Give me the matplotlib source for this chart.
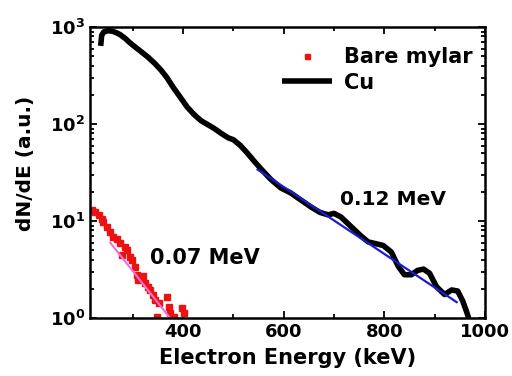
import numpy as np
import matplotlib
matplotlib.use("Agg")
import matplotlib.pyplot as plt
from matplotlib.ticker import FixedLocator, FuncFormatter, LogLocator, NullFormatter

plt.rcParams['font.family'] = ['DejaVu Sans']
plt.rcParams['font.weight'] = 'bold'
plt.rcParams['mathtext.fontset'] = 'dejavusans'

# Cu spectrum (keV, a.u.)
cu_energy = [236, 238, 242, 250, 258, 266, 274, 284, 294, 306, 318, 330, 344, 356,
             368, 380, 394, 408, 422, 436, 450, 462, 476, 490, 500, 514, 528, 542,
             556, 574, 594, 614, 634, 654, 672, 688, 700, 714, 726, 740, 754, 768,
             780, 798, 814, 828, 840, 854, 866, 878, 890, 904, 920, 934, 946, 956,
             964, 972]
cu_counts = [640, 820, 890, 915, 910, 880, 840, 770, 690, 615, 550, 490, 420, 360,
             300, 240, 190, 150, 125, 108, 98, 90, 80, 72, 69, 60, 50, 41,
             34, 27, 22, 19.5, 16.5, 14, 12.3, 11.6, 12, 11, 9.6, 8.2, 7, 6.1,
             5.9, 5.6, 4.8, 3.4, 2.8, 2.8, 3.1, 3.2, 2.9, 2.1, 1.75, 1.95, 1.9, 1.5,
             1.15, 0.85]

# Bare mylar spectrum
mylar_energy = [218, 225, 232, 238, 241, 248, 255, 261, 268, 275, 278, 285, 288, 295,
                298, 305, 308, 311, 321, 324, 331, 334, 341, 344, 351, 368, 371, 348,
                374, 381, 397, 401]
mylar_counts = [13.0, 12.5, 11.5, 10.6, 9.8, 8.7, 7.8, 6.9, 6.6, 5.9, 4.5, 5.4, 5.0, 4.3,
                4.0, 3.4, 2.8, 2.45, 2.7, 2.3, 2.1, 1.95, 1.73, 1.54, 1.43, 1.66, 1.31, 1.03,
                1.12, 1.03, 1.26, 1.12]

# exponential fits (end points)
fit_cu_energy = [548, 944]
fit_cu_counts = [34, 1.46]
fit_mylar_energy = [255, 376]
fit_mylar_counts = [6.0, 0.97]

fig = plt.figure(figsize=(5.12, 3.76), dpi=100)
ax = fig.add_axes([0.176, 0.154, 0.771, 0.774])

ax.plot(mylar_energy, mylar_counts, 's', color='#ee1111', ms=4.5, mec='#ee1111',
        label='Bare mylar')
ax.plot(fit_mylar_energy, fit_mylar_counts, '-', color='#f070d8', lw=1.5)
ax.plot(cu_energy, cu_counts, '-', color='black', lw=4, solid_capstyle='butt', label='Cu')
ax.plot(fit_cu_energy, fit_cu_counts, '-', color='#1c1cd0', lw=1.6)

ax.set_yscale('log')
ax.set_xlim(215, 1000)
ax.set_ylim(1, 1000)

ax.xaxis.set_major_locator(FixedLocator([400, 600, 800, 1000]))
ax.xaxis.set_minor_locator(FixedLocator([300, 500, 700, 900]))
ax.yaxis.set_major_locator(LogLocator(base=10, numticks=10))
ax.yaxis.set_minor_locator(LogLocator(base=10, subs=np.arange(2, 10), numticks=10))
ax.yaxis.set_minor_formatter(NullFormatter())
ax.yaxis.set_major_formatter(FuncFormatter(lambda v, p: r'$\mathbf{10^{%d}}$' % round(np.log10(v))))

ax.tick_params(which='both', direction='in', top=True, right=True, width=1.3,
               labelsize=13)
ax.tick_params(which='major', length=5)
ax.tick_params(which='minor', length=3)
for s in ax.spines.values():
    s.set_linewidth(1.8)

ax.set_xlabel('Electron Energy (keV)', fontsize=15, fontweight='bold', labelpad=5)
ax.set_ylabel('dN/dE (a.u.)', fontsize=14.5, fontweight='bold')
ax.yaxis.set_label_coords(-0.139, 0.53)

ax.text(0.152, 0.185, '0.07 MeV', transform=ax.transAxes, fontsize=15, fontweight='bold')
ax.text(0.633, 0.39, '0.12 MeV', transform=ax.transAxes, fontsize=14.5, fontweight='bold')

leg = ax.legend(loc='upper left', bbox_to_anchor=(0.485, 0.93), frameon=False,
                fontsize=15, handlelength=2.4, handletextpad=0.6, labelspacing=0.25,
                borderpad=0, borderaxespad=0, markerscale=0.8)

fig.savefig('out.png', dpi=100)
